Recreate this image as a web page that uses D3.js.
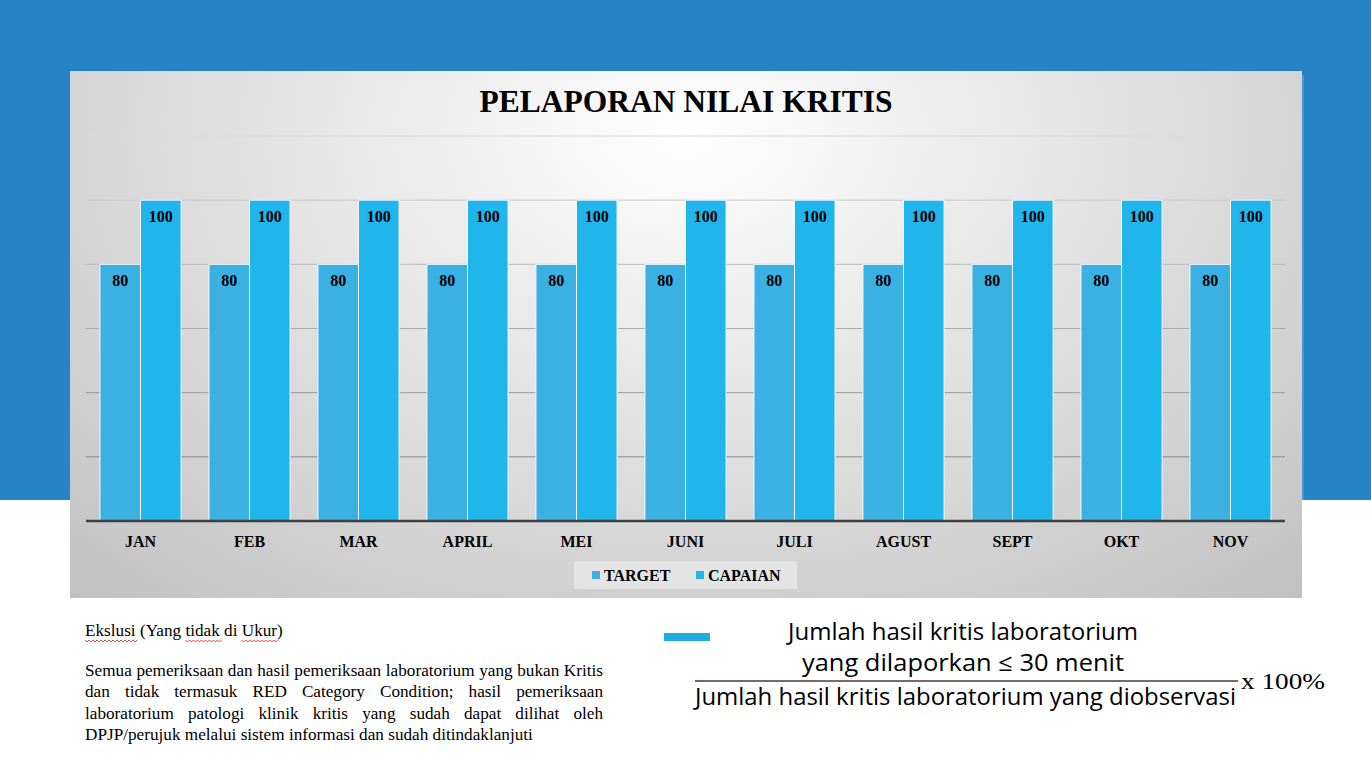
<!DOCTYPE html>
<html>
<head>
<meta charset="utf-8">
<script src="https://cdn.jsdelivr.net/npm/d3@7"></script>
<style>
  html, body { margin: 0; padding: 0; background: #ffffff; }
  svg { display: block; }
</style>
</head>
<body>
<div id="chart"></div>
<script>
const months = ["JAN", "FEB", "MAR", "APRIL", "MEI", "JUNI", "JULI", "AGUST", "SEPT", "OKT", "NOV"];
const seriesNames = ["TARGET", "CAPAIAN"];
const targetValues = [80, 80, 80, 80, 80, 80, 80, 80, 80, 80, 80];
const capaianValues = [100, 100, 100, 100, 100, 100, 100, 100, 100, 100, 100];
const yTicks = [0, 20, 40, 60, 80, 100, 120];

const titleText = "PELAPORAN NILAI KRITIS";
const noteTitle = "Ekslusi (Yang tidak di Ukur)";
const noteLines = [
  "Semua pemeriksaan dan hasil pemeriksaan laboratorium yang bukan Kritis",
  "dan tidak termasuk RED Category Condition; hasil pemeriksaan",
  "laboratorium patologi klinik kritis yang sudah dapat dilihat oleh",
  "DPJP/perujuk melalui sistem informasi dan sudah ditindaklanjuti"
];
const formulaTop = ["Jumlah hasil kritis laboratorium", "yang dilaporkan  \u2264  30 menit"];
const formulaBottom = "Jumlah hasil kritis laboratorium yang diobservasi";
const formulaTail = "x 100%";

const W = 1371, H = 770;
const colors = { "TARGET": "#3bb1e3", "CAPAIAN": "#20b5eb" };
const serif = "Liberation Serif, DejaVu Serif, serif";

const svg = d3.select("#chart").append("svg")
  .attr("width", W).attr("height", H);

const defs = svg.append("defs");
const grad = defs.append("radialGradient")
  .attr("id", "panelGrad")
  .attr("cx", "50%").attr("cy", "12%").attr("r", "80%")
  .attr("gradientTransform", "translate(0.5,0.12) scale(1,1.6) translate(-0.5,-0.12)");
grad.append("stop").attr("offset", "0%").attr("stop-color", "#ffffff");
grad.append("stop").attr("offset", "100%").attr("stop-color", "#bcbcbc");

// slide background
svg.append("rect").attr("x", 0).attr("y", 0).attr("width", W).attr("height", 500).attr("fill", "#2683c6");

// chart panel
svg.append("rect").attr("x", 1302).attr("y", 75).attr("width", 2).attr("height", 425).attr("fill", "#4696cf");
svg.append("rect")
  .attr("x", 70).attr("y", 71).attr("width", 1232).attr("height", 527)
  .attr("fill", "url(#panelGrad)");

const margin = { left: 86, right: 1285, top: 136, bottom: 521 };

const x0 = d3.scaleBand()
  .domain(months)
  .range([margin.left, margin.right])
  .paddingInner(0.256)
  .paddingOuter(0.128);

const x1 = d3.scaleBand()
  .domain(seriesNames)
  .range([0, x0.bandwidth()])
  .padding(0);

const y = d3.scaleLinear()
  .domain([0, 120])
  .range([margin.bottom, margin.top]);

const gridColor = d3.scaleLinear().domain([20, 120]).range(["#8a8a8a", "#dadada"]);

// gridlines
svg.append("g")
  .selectAll("line")
  .data(yTicks.filter(d => d > 0))
  .join("line")
  .attr("x1", margin.left).attr("x2", margin.right)
  .attr("y1", d => y(d)).attr("y2", d => y(d))
  .attr("stroke", d => gridColor(d))
  .attr("stroke-width", 1);

// title
svg.append("text")
  .attr("x", 686).attr("y", 112)
  .attr("text-anchor", "middle")
  .attr("font-family", serif)
  .attr("font-weight", "bold")
  .attr("font-size", 31.5)
  .attr("fill", "#000")
  .text(titleText);

const data = months.map((m, i) => ({
  month: m,
  values: [["TARGET", targetValues[i]], ["CAPAIAN", capaianValues[i]]]
}));

const layer = svg.selectAll("g.layer")
  .data(data)
  .join("g")
  .attr("class", "layer")
  .attr("transform", d => `translate(${x0(d.month)},0)`);

layer.selectAll("rect")
  .data(d => d.values)
  .join("rect")
  .attr("x", d => x1(d[0]))
  .attr("y", d => y(d[1]))
  .attr("width", x1.bandwidth())
  .attr("height", d => y(0) - y(d[1]))
  .attr("fill", d => colors[d[0]])
  .attr("stroke", "#f2f8fc")
  .attr("stroke-width", 1);

layer.selectAll("text")
  .data(d => d.values)
  .join("text")
  .attr("x", d => x1(d[0]) + x1.bandwidth() / 2)
  .attr("y", d => y(d[1]) + 21.5)
  .attr("text-anchor", "middle")
  .attr("font-family", serif)
  .attr("font-weight", "bold")
  .attr("font-size", 16)
  .attr("fill", "#000")
  .text(d => d[1]);

// x axis
const xAxis = svg.append("g")
  .attr("transform", `translate(0,${margin.bottom})`)
  .call(d3.axisBottom(x0).tickSize(0).tickPadding(15));
xAxis.select(".domain").attr("stroke", "#404040").attr("stroke-width", 2.5)
  .attr("d", `M${margin.left},0H${margin.right}`);
xAxis.selectAll("text")
  .attr("font-family", serif)
  .attr("font-weight", "bold")
  .attr("font-size", 16)
  .attr("fill", "#000");

// legend
const legend = svg.append("g");
legend.append("rect")
  .attr("x", 574).attr("y", 561).attr("width", 223).attr("height", 28)
  .attr("fill", "#e4e4e4");
const legendX = [592, 696];
const legendItems = legend.selectAll("g.item")
  .data(seriesNames)
  .join("g")
  .attr("class", "item")
  .attr("transform", (d, i) => `translate(${legendX[i]},575)`);
legendItems.append("rect")
  .attr("x", 0).attr("y", -4).attr("width", 8).attr("height", 8)
  .attr("fill", d => colors[d]);
legendItems.append("text")
  .attr("x", 12).attr("y", 5.5)
  .attr("font-family", serif)
  .attr("font-weight", "bold")
  .attr("font-size", 16)
  .attr("fill", "#000")
  .text(d => d);

// exclusion note
const noteX = 85, noteRight = 603;
const noteSize = 17.2;
const head = svg.append("text")
  .attr("x", noteX).attr("y", 636)
  .attr("font-family", serif)
  .attr("font-size", noteSize)
  .attr("fill", "#000")
  .text(noteTitle);

// red wavy underlines under flagged words
["Ekslusi", "tidak", "Ukur"].forEach(w => {
  const idx = noteTitle.indexOf(w);
  const node = head.node();
  const sx = noteX + node.getSubStringLength(0, idx);
  const wl = node.getSubStringLength(idx, w.length);
  let p = `M${sx},640`;
  for (let xx = sx, k = 0; xx < sx + wl; xx += 2, k++) {
    p += `L${xx + 2},${k % 2 ? 640 : 642}`;
  }
  svg.append("path").attr("d", p).attr("fill", "none")
    .attr("stroke", "#e02020").attr("stroke-width", 0.8);
});

const lineY = [676, 697, 718.5, 740];
noteLines.forEach((line, i) => {
  const words = line.split(" ");
  const t = svg.append("text")
    .attr("y", lineY[i])
    .attr("font-family", serif)
    .attr("font-size", noteSize)
    .attr("fill", "#000");
  const spans = words.map(w => t.append("tspan").text(w));
  const widths = spans.map(s => s.node().getComputedTextLength());
  const total = d3.sum(widths);
  const justify = i < noteLines.length - 1;
  const gap = justify ? (noteRight - noteX - total) / (words.length - 1) : 4.3;
  let cx = noteX;
  spans.forEach((s, k) => {
    s.attr("x", cx);
    cx += widths[k] + gap;
  });
});

// formula
const fFont = "Open Sans, Noto Sans, sans-serif";
svg.append("rect").attr("x", 664).attr("y", 633).attr("width", 46).attr("height", 8).attr("fill", "#20ace2");

const fTop = [{ t: formulaTop[0], y: 640, w: 350 }, { t: formulaTop[1], y: 671, w: 322 }];
fTop.forEach(f => {
  svg.append("text")
    .attr("x", 963).attr("y", f.y)
    .attr("text-anchor", "middle")
    .attr("font-family", fFont)
    .attr("font-size", 24)
    .attr("textLength", f.w)
    .attr("lengthAdjust", "spacingAndGlyphs")
    .attr("fill", "#000")
    .text(f.t);
});
svg.append("line")
  .attr("x1", 695).attr("x2", 1238).attr("y1", 681).attr("y2", 681)
  .attr("stroke", "#7d6a63").attr("stroke-width", 2);
svg.append("text")
  .attr("x", 695).attr("y", 705)
  .attr("font-family", fFont)
  .attr("font-size", 24)
  .attr("textLength", 541)
  .attr("lengthAdjust", "spacingAndGlyphs")
  .attr("fill", "#000")
  .text(formulaBottom);
svg.append("text")
  .attr("x", 1241).attr("y", 689)
  .attr("font-family", serif)
  .attr("font-size", 23)
  .attr("textLength", 84)
  .attr("lengthAdjust", "spacingAndGlyphs")
  .attr("fill", "#000")
  .text(formulaTail);
</script>
</body>
</html>
